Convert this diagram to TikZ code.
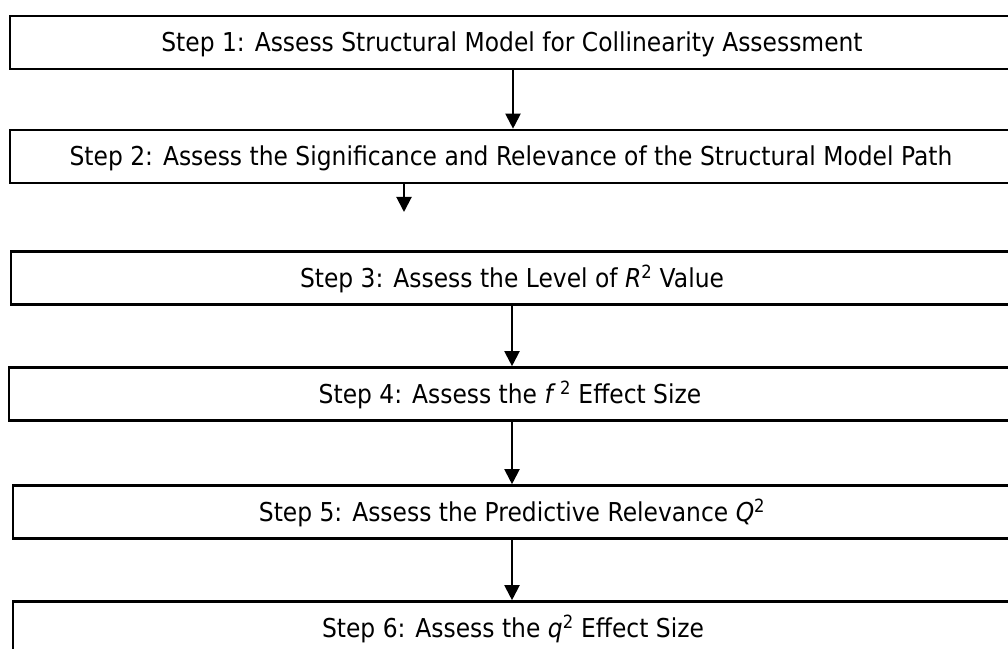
\documentclass[tikz,border=0pt]{standalone}
\usepackage{fontspec}
\setmainfont{DejaVu Sans}[FakeStretch=0.9]
\usetikzlibrary{arrows.meta}
\begin{document}
\begin{tikzpicture}[x=1pt,y=1pt,
  stepbox/.style={draw=black, line width=2.6pt, minimum height=53pt, inner sep=0pt,
    text height=19pt, text depth=0pt, font=\fontsize{26}{30}\selectfont, anchor=center},
  flow/.style={-{Triangle[width=15pt,length=15pt]}, line width=2pt}]
\useasboundingbox (0,0) rectangle (1008,648);
\clip (0,0) rectangle (1008,648);
\node[stepbox, minimum width=1004pt] (b1) at (512,605.5) {Step 1: Assess Structural Model for Collinearity Assessment};
\node[stepbox, minimum width=1002pt] (b2) at (511,491.5) {Step 2: Assess the Significance and Relevance of the Structural Model Path};
\node[stepbox, minimum width=1002pt] (b3) at (512,370) {Step 3: Assess the Level of \textit{R}\textsuperscript{2} Value};
\node[stepbox, minimum width=1002pt] (b4) at (510,254) {Step 4: Assess the \textit{f}\,\textsuperscript{2} Effect Size};
\node[stepbox, minimum width=998pt] (b5) at (512,136) {Step 5: Assess the Predictive Relevance \textit{Q}\textsuperscript{2}};
\node[stepbox, minimum width=1000pt] (b6) at (513,20) {Step 6: Assess the \textit{q}\textsuperscript{2} Effect Size};
\coordinate (x1) at (513,0);
\coordinate (x3) at (512,0);
\coordinate (e2) at (404,436);
\draw[flow] (b1.south -| x1) -- (b2.north -| x1);
\draw[flow] (b2.south -| e2) -- (e2);
\draw[flow] (b3.south -| x3) -- (b4.north -| x3);
\draw[flow] (b4.south -| x3) -- (b5.north -| x3);
\draw[flow] (b5.south -| x3) -- (b6.north -| x3);
\end{tikzpicture}
\end{document}
